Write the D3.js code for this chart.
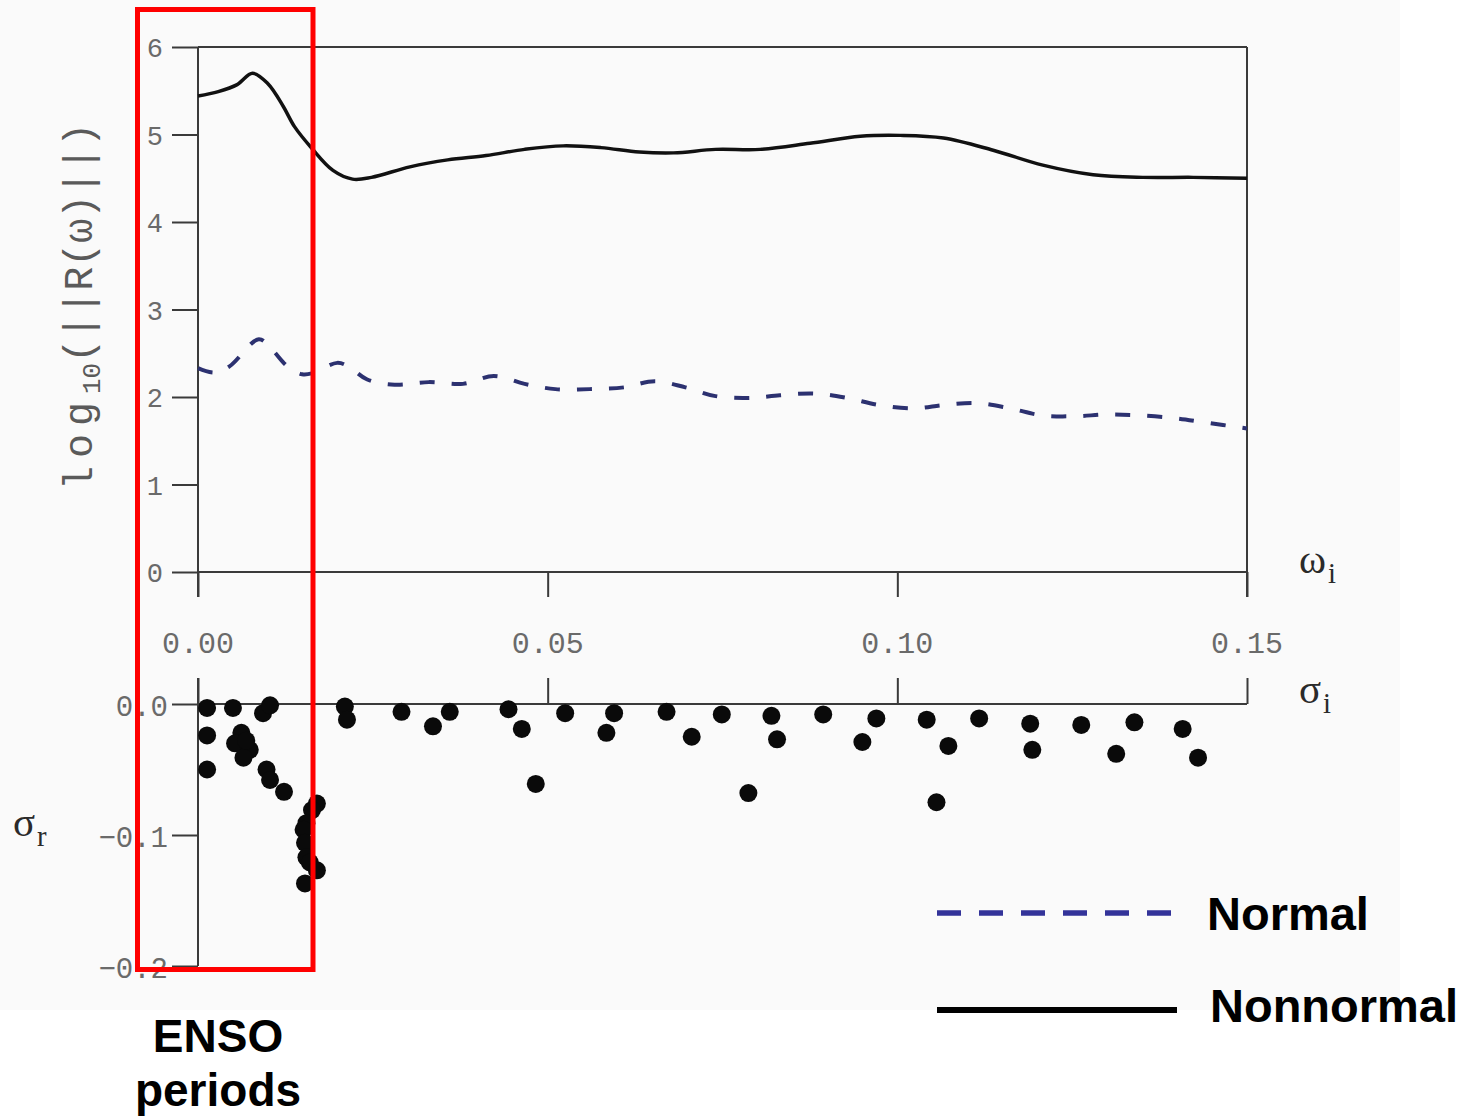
<!DOCTYPE html>
<html>
<head>
<meta charset="utf-8">
<script src="https://cdn.jsdelivr.net/npm/d3@7"></script>
<style>
  html, body { margin: 0; padding: 0; background: #ffffff; }
  svg { display: block; }
</style>
</head>
<body>
<svg id="chart" width="1473" height="1118"></svg>
<script>
// Response norm spectrum, log10(||R(omega)||), for the nonnormal and normal operators
const omegaNonnormal = [0, 0.0029, 0.0056, 0.0078, 0.0100, 0.0122, 0.0138, 0.0163, 0.0193, 0.0221,
  0.0248, 0.0303, 0.0357, 0.0412, 0.0467, 0.0522, 0.0576, 0.0631, 0.0680, 0.0740, 0.0804, 0.0875,
  0.0947, 0.1004, 0.1066, 0.1137, 0.1208, 0.1280, 0.1351, 0.1423, 0.15];
const nonnormalNorm = [5.44, 5.49, 5.57, 5.70, 5.58, 5.32, 5.09, 4.84, 4.59, 4.49,
  4.51, 4.63, 4.71, 4.76, 4.83, 4.87, 4.85, 4.80, 4.79, 4.83, 4.83, 4.90,
  4.98, 4.99, 4.96, 4.82, 4.65, 4.54, 4.51, 4.51, 4.50];

const omegaNormal = [0, 0.0023, 0.0045, 0.0087, 0.0106, 0.0128, 0.0149, 0.0163, 0.0199, 0.0215,
  0.0242, 0.0281, 0.0330, 0.0379, 0.0423, 0.0467, 0.0511, 0.0560, 0.0609, 0.0653, 0.0697,
  0.0740, 0.0790, 0.0832, 0.0882, 0.0928, 0.0973, 0.1023, 0.1068, 0.1114, 0.1161, 0.1207,
  0.1254, 0.1300, 0.1347, 0.1395, 0.1440, 0.15];
const normalNorm = [2.33, 2.28, 2.35, 2.66, 2.54, 2.35, 2.26, 2.27, 2.39, 2.35,
  2.20, 2.14, 2.17, 2.15, 2.24, 2.15, 2.09, 2.09, 2.11, 2.18, 2.11,
  2.01, 1.99, 2.02, 2.04, 1.99, 1.91, 1.87, 1.91, 1.93, 1.87, 1.79,
  1.78, 1.80, 1.79, 1.76, 1.71, 1.64];

// Eigenvalues of the operator: imaginary part sigma_i, real part sigma_r
const sigmaI = [0.0013, 0.0050, 0.0093, 0.0103, 0.0013, 0.0013, 0.0062, 0.0053, 0.0074, 0.0065,
  0.0069, 0.0098, 0.0103, 0.0123, 0.0170, 0.0163, 0.0155, 0.0151, 0.0153, 0.0155, 0.0160,
  0.0170, 0.0153, 0.0210, 0.0213, 0.0291, 0.0336, 0.0360, 0.0444, 0.0463, 0.0483, 0.0525,
  0.0584, 0.0595, 0.0670, 0.0706, 0.0749, 0.0787, 0.0820, 0.0828, 0.0894, 0.0950, 0.0970,
  0.1042, 0.1056, 0.1073, 0.1117, 0.1190, 0.1193, 0.1263, 0.1313, 0.1339, 0.1408, 0.1430];
const sigmaR = [-0.003, -0.003, -0.007, -0.001, -0.024, -0.050, -0.022, -0.030, -0.035, -0.041,
  -0.028, -0.050, -0.058, -0.067, -0.076, -0.081, -0.091, -0.096, -0.106, -0.117, -0.121,
  -0.127, -0.137, -0.002, -0.012, -0.006, -0.017, -0.006, -0.004, -0.019, -0.061, -0.007,
  -0.022, -0.007, -0.006, -0.025, -0.008, -0.068, -0.009, -0.027, -0.008, -0.029, -0.011,
  -0.012, -0.075, -0.032, -0.011, -0.015, -0.035, -0.016, -0.038, -0.014, -0.019, -0.041];

const topTicks = [0, 1, 2, 3, 4, 5, 6];
const freqTicks = [0, 0.05, 0.10, 0.15];
const growthTicks = [0, -0.1, -0.2];
const legendLabels = ["Normal", "Nonnormal"];
const bracketLabel = ["ENSO", "periods"];

const svg = d3.select("#chart");

// paper backdrop of the figure panel
svg.append("rect").attr("x", 0).attr("y", 0).attr("width", 1400).attr("height", 1010).attr("fill", "#fafafa");

const x = d3.scaleLinear().domain([0, 0.15]).range([198, 1247]);
const yTop = d3.scaleLinear().domain([0, 6]).range([572, 47]);
const yBot = d3.scaleLinear().domain([-0.2, 0]).range([966, 704]);

const axisColor = "#3a3a3a";
const tickFont = "'Liberation Mono', 'DejaVu Sans Mono', monospace";
const tickColor = "#6a6a6a";

// ---------- upper panel: frame and axes ----------
const gTop = svg.append("g");

const leftAxis = d3.axisLeft(yTop).tickValues(topTicks).tickSize(26).tickSizeOuter(0).tickPadding(9)
  .tickFormat(d3.format("d"));
const gLeft = gTop.append("g").attr("transform", "translate(198,0)").call(leftAxis);
gLeft.select(".domain").remove();
gLeft.selectAll(".tick line").attr("stroke", axisColor).attr("stroke-width", 2);
gLeft.selectAll(".tick text").attr("font-family", tickFont).attr("font-size", 27)
  .attr("fill", tickColor).attr("dy", "0.36em");

const topBottomAxis = d3.axisBottom(x).tickValues(freqTicks).tickSize(25).tickSizeOuter(0).tickFormat("");
const gTB = gTop.append("g").attr("transform", "translate(0,572)").call(topBottomAxis);
gTB.select(".domain").remove();
gTB.selectAll(".tick line").attr("stroke", axisColor).attr("stroke-width", 2);

gTop.append("line").attr("x1", 198).attr("x2", 1247).attr("y1", 572).attr("y2", 572)
  .attr("stroke", axisColor).attr("stroke-width", 2);
gTop.append("line").attr("x1", 198).attr("x2", 1247).attr("y1", 47).attr("y2", 47)
  .attr("stroke", axisColor).attr("stroke-width", 2);
gTop.append("line").attr("x1", 198).attr("x2", 198).attr("y1", 47).attr("y2", 597)
  .attr("stroke", axisColor).attr("stroke-width", 2);
gTop.append("line").attr("x1", 1247).attr("x2", 1247).attr("y1", 47).attr("y2", 597)
  .attr("stroke", axisColor).attr("stroke-width", 2);

// shared frequency labels between the panels
svg.append("g").selectAll("text").data(freqTicks).join("text")
  .attr("x", d => x(d)).attr("y", 653)
  .attr("text-anchor", "middle")
  .attr("font-family", tickFont).attr("font-size", 30).attr("fill", tickColor)
  .text(d => d3.format(".2f")(d));

// y-axis title: log10(||R(ω)||)
const yTitle = svg.append("text")
  .attr("transform", "translate(92,490) rotate(-90)")
  .attr("font-family", tickFont).attr("font-size", 40).attr("fill", "#5a5a5a");
yTitle.append("tspan").attr("letter-spacing", 8).text("log");
yTitle.append("tspan").attr("font-size", 26).attr("dy", 8).text("10");
yTitle.append("tspan").attr("dy", -8).text("(||R(ω)||)");

// axis symbols
function symbolLabel(px, py, main, sub, size) {
  const t = svg.append("text").attr("x", px).attr("y", py)
    .attr("font-family", "'Liberation Serif', 'DejaVu Serif', serif")
    .attr("font-size", size).attr("fill", "#2a2a2a");
  t.append("tspan").text(main);
  t.append("tspan").attr("font-size", size * 0.7).attr("dx", 2).attr("dy", size * 0.24).text(sub);
}
symbolLabel(1299, 573, "ω", "i", 41);
symbolLabel(1299, 703, "σ", "i", 41);
symbolLabel(13, 836, "σ", "r", 41);

// ---------- curves ----------
const nonnormalData = omegaNonnormal.map((w, i) => [w, nonnormalNorm[i]]);
const normalData = omegaNormal.map((w, i) => [w, normalNorm[i]]);

const line = d3.line().x(d => x(d[0])).y(d => yTop(d[1])).curve(d3.curveCatmullRom.alpha(0.5));

svg.append("path").datum(normalData).attr("d", line)
  .attr("fill", "none").attr("stroke", "#2c3170").attr("stroke-width", 4)
  .attr("stroke-dasharray", "15,17");

svg.append("path").datum(nonnormalData).attr("d", line)
  .attr("fill", "none").attr("stroke", "#111").attr("stroke-width", 3.5);

// ---------- lower panel: eigenvalue scatter ----------
const gBot = svg.append("g");
const botLeft = d3.axisLeft(yBot).tickValues(growthTicks).tickSize(26).tickSizeOuter(0).tickPadding(4)
  .tickFormat(d3.format(".1f"));
const gBL = gBot.append("g").attr("transform", "translate(198,0)").call(botLeft);
gBL.select(".domain").remove();
gBL.selectAll(".tick line").attr("stroke", axisColor).attr("stroke-width", 2);
gBL.selectAll(".tick text").attr("font-family", tickFont).attr("font-size", 29)
  .attr("fill", tickColor).attr("dy", "0.4em");

const botTop = d3.axisTop(x).tickValues(freqTicks).tickSize(26).tickSizeOuter(0).tickFormat("");
const gBT = gBot.append("g").attr("transform", "translate(0,704)").call(botTop);
gBT.select(".domain").remove();
gBT.selectAll(".tick line").attr("stroke", axisColor).attr("stroke-width", 2);

gBot.append("line").attr("x1", 198).attr("x2", 1247).attr("y1", 704).attr("y2", 704)
  .attr("stroke", axisColor).attr("stroke-width", 2);
gBot.append("line").attr("x1", 198).attr("x2", 198).attr("y1", 678).attr("y2", 966)
  .attr("stroke", axisColor).attr("stroke-width", 2);

const eig = sigmaI.map((w, i) => [w, sigmaR[i]]);
gBot.append("g").selectAll("circle").data(eig).join("circle")
  .attr("cx", d => x(d[0])).attr("cy", d => yBot(d[1])).attr("r", 9)
  .attr("fill", "#0a0a0a");

// ---------- legend ----------
const legend = svg.append("g");
legend.append("line").attr("x1", 937).attr("x2", 1171).attr("y1", 913).attr("y2", 913)
  .attr("stroke", "#333399").attr("stroke-width", 5.5).attr("stroke-dasharray", "24,18");
legend.append("line").attr("x1", 937).attr("x2", 1177).attr("y1", 1010).attr("y2", 1010)
  .attr("stroke", "#000").attr("stroke-width", 6);
legend.append("text").attr("x", 1207).attr("y", 930)
  .attr("font-family", "'Liberation Sans', Arial, sans-serif").attr("font-weight", "bold")
  .attr("font-size", 47).attr("fill", "#000").text(legendLabels[0]);
legend.append("text").attr("x", 1210).attr("y", 1022)
  .attr("font-family", "'Liberation Sans', Arial, sans-serif").attr("font-weight", "bold")
  .attr("font-size", 47).attr("fill", "#000").text(legendLabels[1]);

// ---------- highlighted ENSO band ----------
svg.append("rect").attr("x", 137.5).attr("y", 9.5).attr("width", 175.5).attr("height", 960)
  .attr("fill", "none").attr("stroke", "#ff0000").attr("stroke-width", 5);

svg.append("g").selectAll("text").data(bracketLabel).join("text")
  .attr("x", 218).attr("y", (d, i) => 1052 + i * 54)
  .attr("text-anchor", "middle")
  .attr("font-family", "'Liberation Sans', Arial, sans-serif").attr("font-weight", "bold")
  .attr("font-size", 46).attr("fill", "#000").text(d => d);
</script>
</body>
</html>
